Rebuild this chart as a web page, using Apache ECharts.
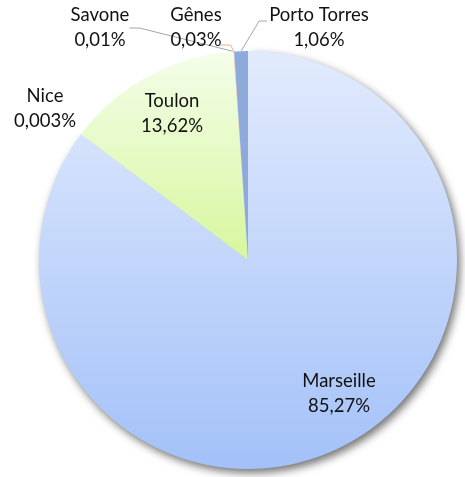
<!DOCTYPE html>
<html>
<head>
<meta charset="utf-8">
<script src="https://cdn.jsdelivr.net/npm/echarts@6/dist/echarts.min.js"></script>
<style>html,body{margin:0;padding:0;background:#fff}#c{width:465px;height:477px}</style>
</head>
<body>
<div id="c"></div>
<script>
const categories = ['Marseille', 'Nice', 'Toulon', 'Savone', 'Gênes', 'Porto Torres'];
const values = [85.27, 0.003, 13.62, 0.01, 0.03, 1.06];
const valueLabels = ['85,27%', '0,003%', '13,62%', '0,01%', '0,03%', '1,06%'];

const fills = {
  'Porto Torres': '#8eaadb',
  'Marseille': new echarts.graphic.LinearGradient(0, 0, 0, 1, [
    { offset: 0, color: '#e2ebfd' }, { offset: 1, color: '#a3c1f8' }]),
  'Nice': '#a5a5a5',
  'Toulon': new echarts.graphic.LinearGradient(0, 0, 0, 1, [
    { offset: 0, color: '#f4fdea' }, { offset: 1, color: '#d7f79d' }]),
  'Savone': '#ffd966',
  'Gênes': '#f4b183'
};
const labelPos = {
  'Porto Torres': [319, 28],
  'Marseille': [339, 394],
  'Nice': [45, 109],
  'Toulon': [172, 114],
  'Savone': [100, 28],
  'Gênes': [196, 28]
};
const withLine = { 'Porto Torres': '#a6a6a6', 'Savone': '#a6a6a6', 'Gênes': '#f4b183' };

const data = categories.map((name, i) => {
  const item = {
    name: name,
    value: values[i],
    itemStyle: { color: fills[name] },
    label: { formatter: name + '\n' + valueLabels[i] },
    labelLine: { show: !!withLine[name], lineStyle: { color: withLine[name] || '#a6a6a6', width: 1 } }
  };
  if (name === 'Marseille') {
    item.itemStyle.shadowBlur = 9;
    item.itemStyle.shadowOffsetX = 3;
    item.itemStyle.shadowOffsetY = 4;
    item.itemStyle.shadowColor = 'rgba(0,0,0,0.55)';
  }
  return item;
});

const chart = echarts.init(document.getElementById('c'), null, { renderer: 'canvas' });
chart.setOption({
  animation: false,
  series: [{
    type: 'pie',
    center: [248, 260],
    radius: [0, 209],
    startAngle: 90,
    clockwise: true,
    avoidLabelOverlap: false,
    minShowLabelAngle: 0,
    data: data,
    label: {
      show: true,
      position: 'outside',
      fontFamily: 'Lato',
      fontSize: 18.5,
      lineHeight: 25,
      color: '#111111',
      align: 'center'
    },
    labelLine: { length: 10, length2: 10, smooth: false },
    labelLayout: function (p) {
      const name = categories[p.dataIndex];
      const pos = labelPos[name];
      const out = { x: pos[0], y: pos[1], align: 'center', verticalAlign: 'middle', hideOverlap: false, moveOverlap: null };
      const anchor = p.labelLinePoints && p.labelLinePoints[0];
      if (anchor) {
        const halfW = p.labelRect.width / 2;
        if (name === 'Gênes') {
          const rx = pos[0] + halfW;
          out.labelLinePoints = [anchor, [rx + 9, pos[1] + 17], [rx - 3, pos[1] + 17]];
        } else if (name === 'Porto Torres') {
          const lx = pos[0] - halfW;
          out.labelLinePoints = [anchor, [lx - 10, pos[1] - 7], [lx - 2, pos[1] - 7]];
        }
      }
      return out;
    }
  }]
});
</script>
</body>
</html>
